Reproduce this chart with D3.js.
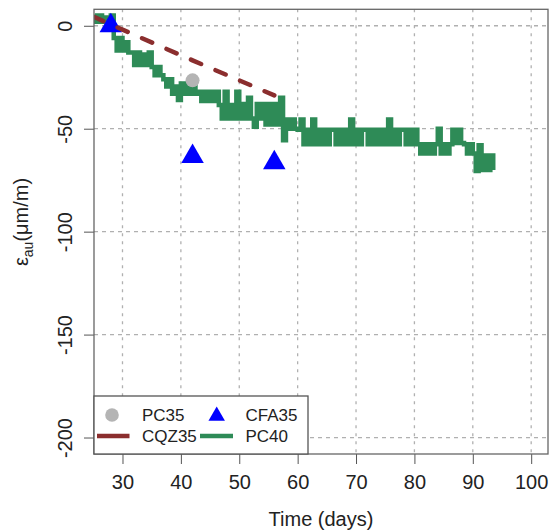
<!DOCTYPE html>
<html>
<head>
<meta charset="utf-8">
<script src="https://cdn.jsdelivr.net/npm/d3@7"></script>
<style>
  html, body { margin: 0; padding: 0; background: #fff; }
  svg { display: block; font-family: "Liberation Sans", Arial, sans-serif; }
</style>
</head>
<body>
<div id="chart"></div>
<script>
// Autogenous strain over time for four mixes
const xTicks = [30, 40, 50, 60, 70, 80, 90, 100];
const yTicks = [0, -50, -100, -150, -200];

// PC35: single reading
const pc35Days = [42];
const pc35Strain = [-26.5];

// CFA35: three readings
const cfa35Days = [28, 42, 56];
const cfa35Strain = [0, -63.5, -66.5];

// CQZ35: fitted trend
const cqz35Days = [25, 28, 42, 56];
const cqz35Strain = [4.5, 0.6, -16.8, -33.8];

// PC40: continuous gauge record (the gauge flickers between adjacent steps)
const pc40Days = [
  25.25, 25.5, 26, 26.5, 27, 27.5, 28, 28.5, 29, 29.5,
  30, 30.5, 31, 31.5, 32, 32.5, 33, 33.5, 34, 34.5,
  35, 35.5, 36, 36.5, 37, 37.5, 38, 38.5, 39, 39.5,
  40, 40.5, 41, 41.5, 42, 42.5, 43, 43.5, 44, 44.5,
  45, 45.5, 46, 46.5, 47, 47.5, 48, 48.5, 49, 49.5,
  50, 50.5, 51, 51.5, 52, 52.5, 53, 53.5, 54, 54.5,
  55, 55.5, 56, 56.5, 57, 57.5, 58, 58.5, 59, 59.5,
  60, 60.5, 61, 61.5, 62, 62.5, 63, 63.5, 64, 64.5,
  65, 65.5, 66, 66.5, 67, 67.5, 68, 68.5, 69, 69.5,
  70, 70.5, 71, 71.5, 72, 72.5, 73, 73.5, 74, 74.5,
  75, 75.5, 76, 76.5, 77, 77.5, 78, 78.5, 79, 79.5,
  80, 80.5, 81, 81.5, 82, 82.5, 83, 83.5, 84, 84.5,
  85, 85.5, 86, 86.5, 87, 87.5, 88, 88.5, 89, 89.5,
  90, 90.5, 91, 91.5, 92, 92.5, 93, 93.5
];
const pc40Strain = [
  5, 2, 5, 2, 4, 2, 5, -6, -12, -6,
  -12, -8, -13, -13, -19, -13, -19, -14, -19, -13,
  -20, -24, -20, -24, -26, -29.5, -26, -33, -29.5, -36,
  -28, -33, -28, -33, -28, -33, -32, -36.5, -32, -36.5,
  -32, -36.5, -32, -38.5, -45, -32, -45, -38.5, -45, -32,
  -45, -38, -45, -35, -45, -49, -38, -45, -38, -48,
  -38, -48, -38, -48, -35, -55.6, -45.5, -50, -45.5, -50,
  -50.5, -45.5, -57.5, -50.5, -57.5, -45.5, -57.5, -50.5, -57.5, -50.5,
  -57.5, -50.5, -50.5, -57.5, -50.5, -57.5, -50.5, -57.5, -45.5, -57.5,
  -50.5, -57.5, -50.5, -50.5, -57.5, -50.5, -57.5, -50.5, -57.5, -50.5,
  -57.5, -45.5, -57.5, -50.5, -57.5, -50.5, -50.5, -57.5, -50.5, -57.5,
  -50.5, -57.5, -62, -57.5, -62, -57.5, -62, -57.5, -50, -62,
  -57.5, -62, -57.5, -50.5, -57, -50.5, -57, -57.5, -62, -57.5,
  -62, -70.5, -58, -70, -63, -70, -63, -70
];

const seriesNames = ["PC35", "CFA35", "CQZ35", "PC40"];
const colors = { PC35: "#b4b4b4", CFA35: "#0000ff", CQZ35: "#8b2e2e", PC40: "#2e8b57" };

const W = 556, H = 530;
const plot = { left: 94, right: 548, top: 9.3, bottom: 454 };

const svg = d3.select("#chart").append("svg")
  .attr("width", W).attr("height", H);

const x = d3.scaleLinear().domain([25.12, 102.88]).range([plot.left, plot.right]);
const y = d3.scaleLinear().domain([-208, 8]).range([plot.bottom, plot.top]);

svg.append("defs").append("clipPath").attr("id", "plotClip")
  .append("rect")
  .attr("x", plot.left).attr("y", plot.top)
  .attr("width", plot.right - plot.left).attr("height", plot.bottom - plot.top);

// grid
const grid = svg.append("g").attr("class", "grid");
grid.selectAll("line.v").data(xTicks).join("line")
  .attr("class", "v")
  .attr("x1", d => x(d)).attr("x2", d => x(d))
  .attr("y1", plot.top).attr("y2", plot.bottom)
  .attr("stroke", "#b0b0b0").attr("stroke-width", 1.3)
  .attr("stroke-dasharray", "3,5");
grid.selectAll("line.h").data(yTicks).join("line")
  .attr("class", "h")
  .attr("x1", plot.left).attr("x2", plot.right)
  .attr("y1", d => y(d)).attr("y2", d => y(d))
  .attr("stroke", "#b0b0b0").attr("stroke-width", 1.3)
  .attr("stroke-dasharray", "4,4");

// axes
const xAxis = d3.axisBottom(x).tickValues(xTicks).tickSize(10).tickPadding(6);
const gx = svg.append("g").attr("transform", `translate(0,${plot.bottom})`).call(xAxis);
gx.select(".domain").remove();
gx.selectAll(".tick line").attr("stroke", "#555").attr("stroke-width", 1);
gx.selectAll(".tick text")
  .attr("font-size", 20).attr("fill", "#222")
  .attr("font-family", "Liberation Sans, Arial, sans-serif")
  .attr("y", 0).attr("dy", 0)
  .attr("transform", "translate(0,35)");

const yAxis = d3.axisLeft(y).tickValues(yTicks).tickSize(10).tickFormat(d => d === 0 ? "0" : "-" + Math.abs(d));
const gy = svg.append("g").attr("transform", `translate(${plot.left},0)`).call(yAxis);
gy.select(".domain").remove();
gy.selectAll(".tick line").attr("stroke", "#555").attr("stroke-width", 1);
gy.selectAll(".tick text")
  .attr("font-size", 20).attr("fill", "#222")
  .attr("font-family", "Liberation Sans, Arial, sans-serif")
  .attr("x", 0).attr("dy", "0.36em")
  .attr("text-anchor", "middle")
  .attr("transform", "translate(-29.5,0) rotate(-90)");

// marks
const marks = svg.append("g").attr("clip-path", "url(#plotClip)");

const pc40 = pc40Days.map((d, i) => [d, pc40Strain[i]]);
marks.append("path")
  .datum(pc40)
  .attr("fill", "none")
  .attr("stroke", colors.PC40)
  .attr("stroke-width", 4.5)
  .attr("d", d3.line().x(d => x(d[0])).y(d => y(d[1])).curve(d3.curveStepAfter));

marks.selectAll("circle.pc35").data(pc35Days.map((d, i) => [d, pc35Strain[i]])).join("circle")
  .attr("class", "pc35")
  .attr("cx", d => x(d[0])).attr("cy", d => y(d[1]))
  .attr("r", 7).attr("fill", colors.PC35);

function triangle(cx, cy, r) {
  const h = r * Math.sqrt(3) / 2;
  return `M${cx},${cy - r}L${cx + h},${cy + r / 2}L${cx - h},${cy + r / 2}Z`;
}
marks.selectAll("path.cfa35").data(cfa35Days.map((d, i) => [d, cfa35Strain[i]])).join("path")
  .attr("class", "cfa35")
  .attr("d", d => triangle(x(d[0]), y(d[1]), 13))
  .attr("fill", colors.CFA35);

marks.append("path")
  .datum(cqz35Days.map((d, i) => [d, cqz35Strain[i]]))
  .attr("fill", "none")
  .attr("stroke", colors.CQZ35)
  .attr("stroke-width", 4.5)
  .attr("stroke-linecap", "round")
  .attr("stroke-dasharray", "11,15.7")
  .attr("d", d3.line().x(d => x(d[0])).y(d => y(d[1])));

// frame
svg.append("rect")
  .attr("x", plot.left).attr("y", plot.top)
  .attr("width", plot.right - plot.left).attr("height", plot.bottom - plot.top)
  .attr("fill", "none").attr("stroke", "#666").attr("stroke-width", 1.3);

// axis titles
svg.append("text")
  .attr("x", (plot.left + plot.right) / 2).attr("y", 526)
  .attr("text-anchor", "middle").attr("font-size", 20).attr("fill", "#222")
  .text("Time (days)");

const yTitle = svg.append("text")
  .attr("transform", "translate(28,222) rotate(-90)")
  .attr("text-anchor", "middle").attr("font-size", 20).attr("fill", "#222");
yTitle.append("tspan").text("ε");
yTitle.append("tspan").attr("font-size", 14).attr("dy", 5).text("au");
yTitle.append("tspan").attr("dy", -5).text("(μm/m)");

// legend
const lg = svg.append("g");
lg.append("rect")
  .attr("x", 94).attr("y", 396).attr("width", 214).attr("height", 58)
  .attr("fill", "#fff").attr("stroke", "#555").attr("stroke-width", 1.3);

const row1 = 415, row2 = 436;
lg.append("circle").attr("cx", 112).attr("cy", row1).attr("r", 6.8).attr("fill", colors.PC35);
lg.append("path").attr("d", triangle(216.7, row1 + 1, 9.5)).attr("fill", colors.CFA35);
lg.append("line").attr("x1", 97).attr("x2", 129.5).attr("y1", row2).attr("y2", row2)
  .attr("stroke", colors.CQZ35).attr("stroke-width", 4.5);
lg.append("line").attr("x1", 200).attr("x2", 233).attr("y1", row2).attr("y2", row2)
  .attr("stroke", colors.PC40).attr("stroke-width", 4.5);

const legendText = [
  { name: seriesNames[0], x: 142, y: row1 },
  { name: seriesNames[1], x: 245.5, y: row1 },
  { name: seriesNames[2], x: 142, y: row2 },
  { name: seriesNames[3], x: 245.5, y: row2 }
];
lg.selectAll("text").data(legendText).join("text")
  .attr("x", d => d.x).attr("y", d => d.y).attr("dy", "0.36em")
  .attr("font-size", 17).attr("fill", "#222")
  .text(d => d.name);
</script>
</body>
</html>
